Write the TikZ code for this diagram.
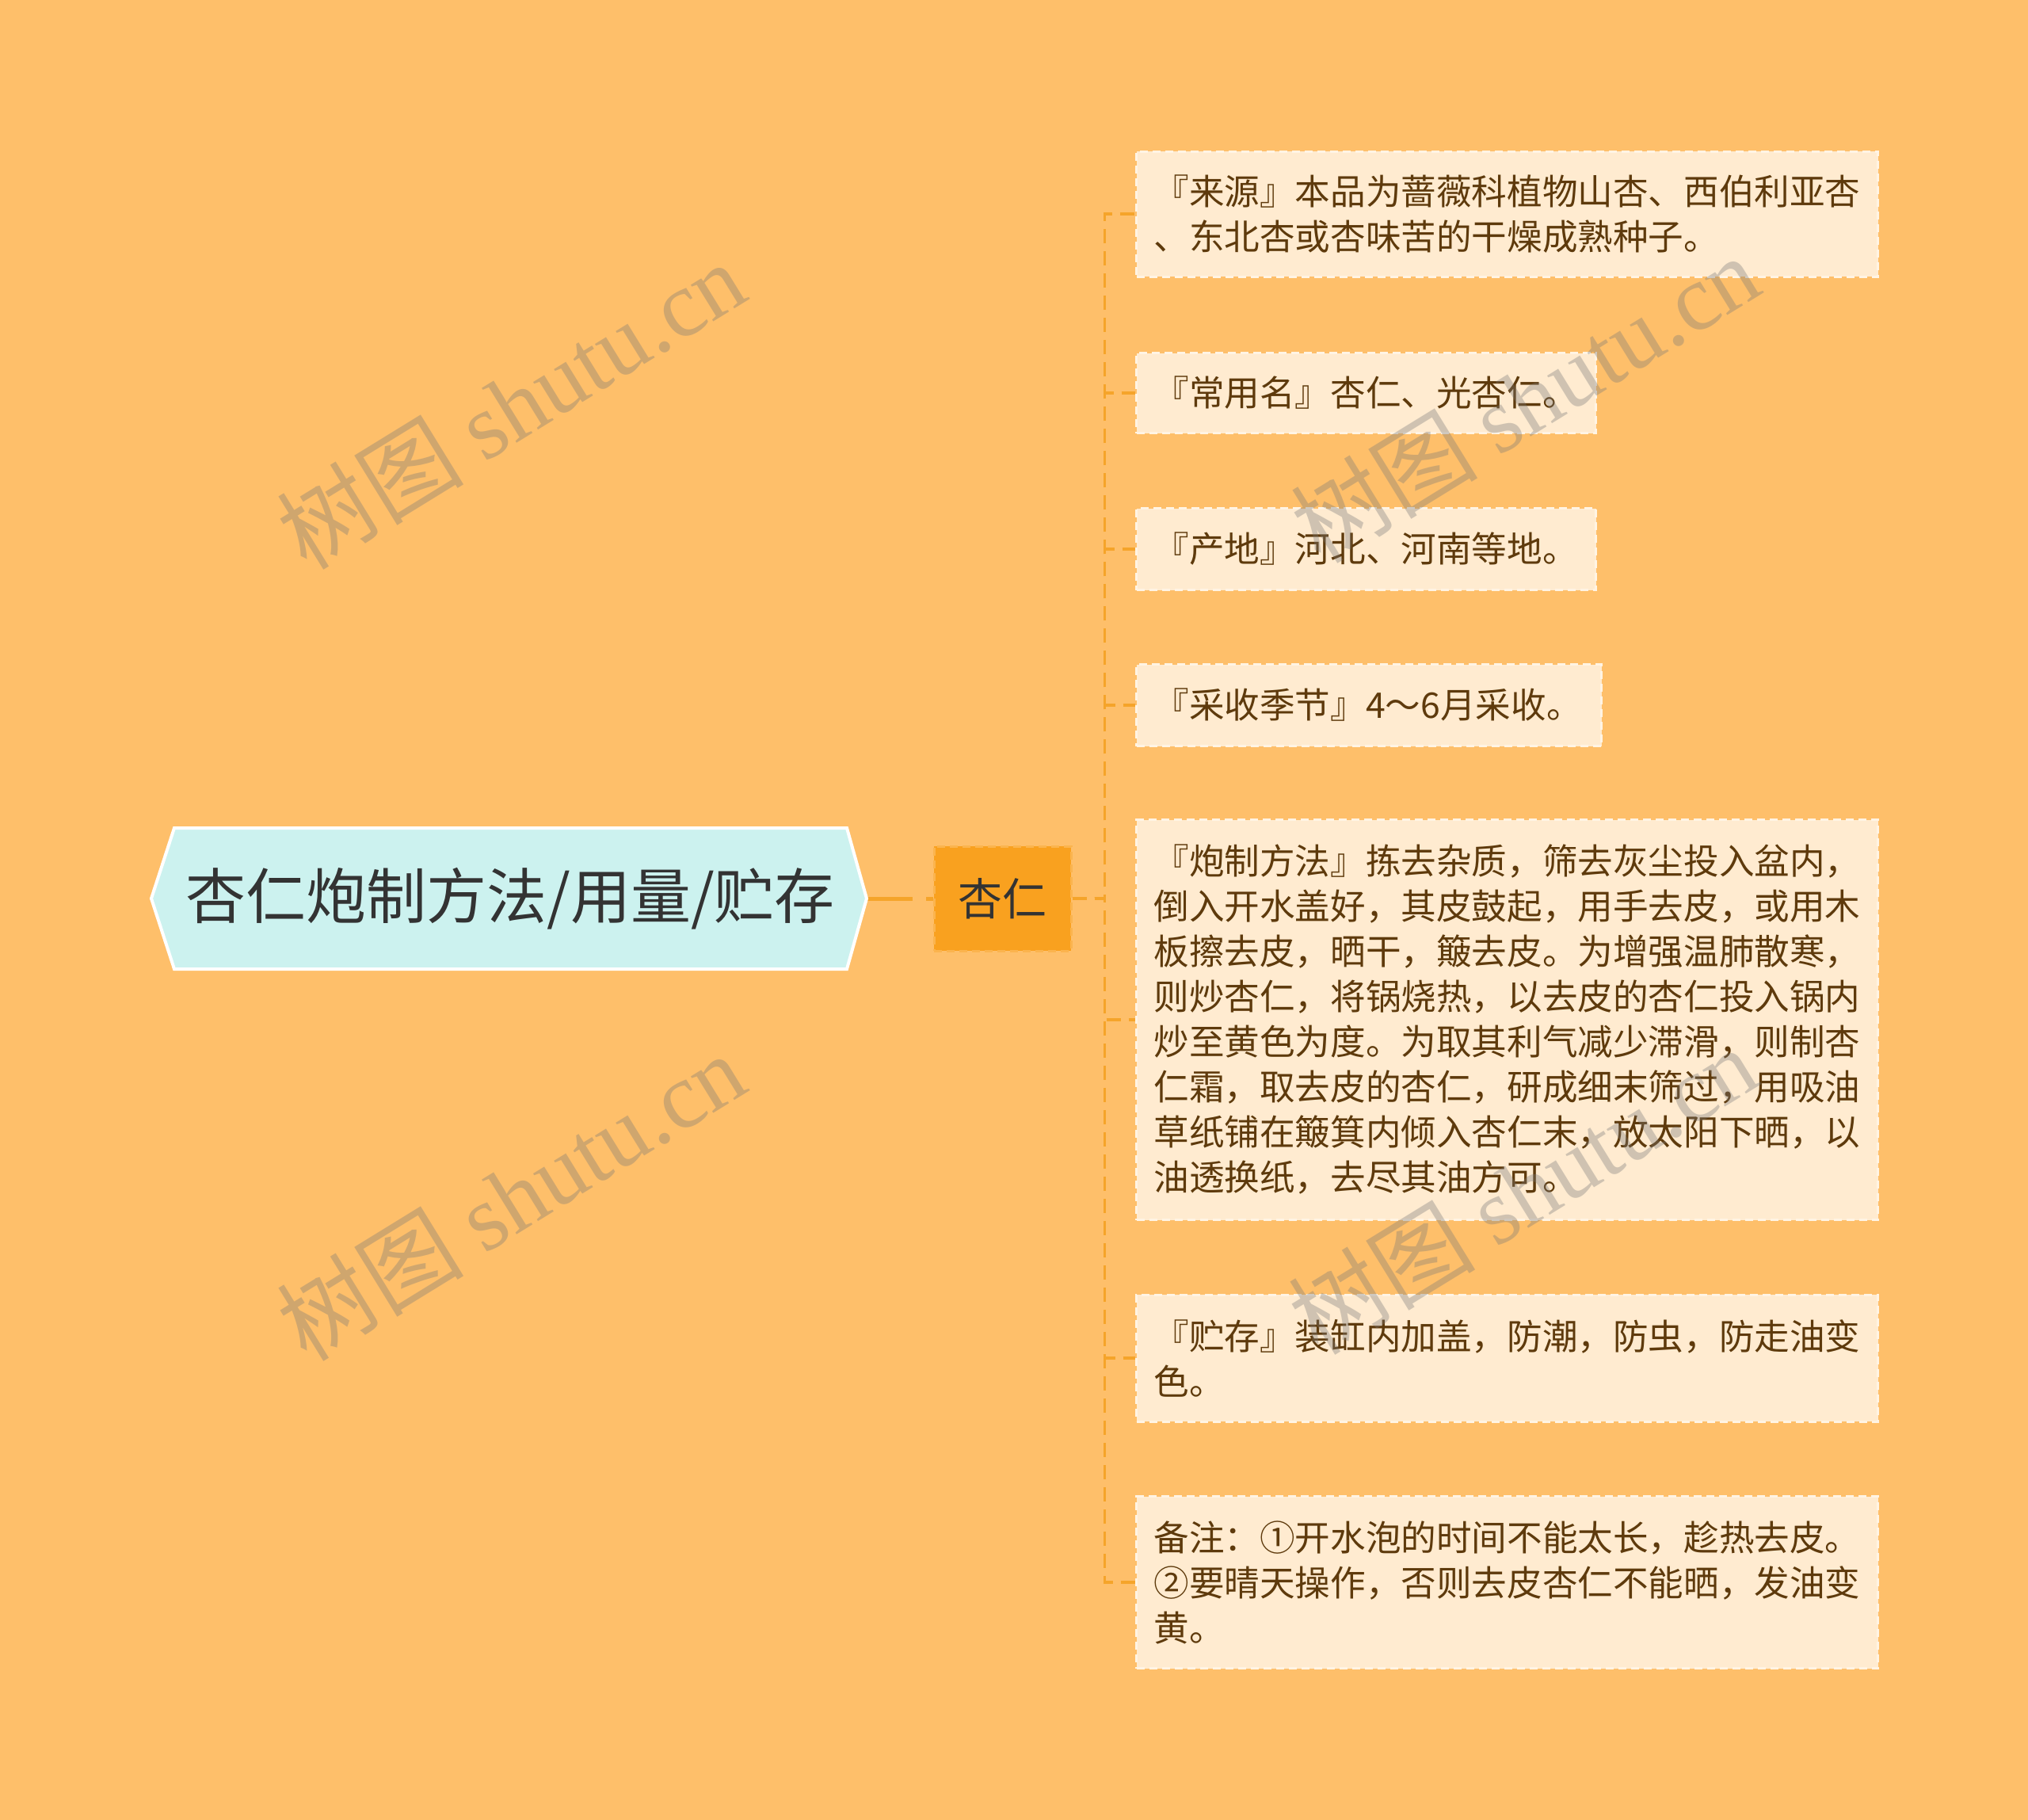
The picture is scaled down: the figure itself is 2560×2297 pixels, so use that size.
\documentclass[tikz,border=0pt]{standalone}
\usepackage{fontspec}
\setmainfont{Noto Sans CJK SC}
\newfontfamily\cjk{Noto Sans CJK SC}
\newfontfamily\wmserif{Liberation Serif}
\usetikzlibrary{backgrounds,calc}
\definecolor{bgor}{HTML}{FEBF6A}
\definecolor{leafbg}{HTML}{FFEBD0}
\definecolor{leafedge}{HTML}{FFF4E4}
\definecolor{leaftext}{HTML}{5E3A0C}
\definecolor{lineor}{HTML}{F5A42A}
\definecolor{rootbg}{HTML}{CCF2EF}
\definecolor{xrfill}{HTML}{F9A11F}
\definecolor{xredge}{HTML}{FBB44E}
\definecolor{darktext}{HTML}{333333}
\definecolor{wmgray}{HTML}{787878}
\begin{document}
\begin{tikzpicture}[x=0.5pt,y=-0.5pt,
  leaf/.style={anchor=west, fill=leafbg, draw=leafedge, dash pattern=on 5pt off 3pt,
    line width=1.5pt, inner xsep=11pt, inner ysep=0pt, align=left, text=leaftext,
    font=\fontsize{22.3}{28.5}\selectfont},
  conn/.style={draw=lineor, line width=1.75pt, dash pattern=on 9pt off 5pt},
  wm/.style={rotate=31.6, text=wmgray, opacity=0.35, font=\fontsize{59}{64}\selectfont}]
\useasboundingbox (0,0) rectangle (2560,2297);
% root hexagon
\path[fill=rootbg, draw=white, line width=2pt]
  (220,1045) -- (1069,1045) -- (1094,1134) -- (1069,1223) -- (220,1223) -- (191,1134) -- cycle;
\node[minimum width=424.5pt, minimum height=89pt, inner sep=0pt, text=darktext,
  font=\fontsize{38}{44}\selectfont] (root) at (644,1134) {杏仁炮制方法/用量/贮存};
\coordinate (rootTip) at (1094,1134);
% second level
\node[fill=xrfill, draw=xredge, dash pattern=on 5pt off 3pt, line width=1.5pt,
  minimum width=86.5pt, minimum height=66pt, inner sep=0pt, text=darktext,
  font=\fontsize{28}{32}\selectfont] (xr) at (1265.5,1134) {杏仁};
% leaves
\node[leaf, text width=446pt, minimum height=79pt] (l1) at (1433,270)
  {『来源』本品为蔷薇科植物山杏、西伯利亚杏\\、东北杏或杏味苦的干燥成熟种子。};
\node[leaf, text width=268pt, minimum height=50.5pt] (l2) at (1433,496)
  {『常用名』杏仁、光杏仁。};
\node[leaf, text width=268pt, minimum height=51.5pt] (l3) at (1433,693)
  {『产地』河北、河南等地。};
\node[leaf, text width=271.5pt, minimum height=51.5pt] (l4) at (1433,890)
  {『采收季节』4～6月采收。};
\node[leaf, text width=446pt, minimum height=252.5pt] (l5) at (1433,1287)
  {『炮制方法』拣去杂质，筛去灰尘投入盆内，\\倒入开水盖好，其皮鼓起，用手去皮，或用木\\板擦去皮，晒干，簸去皮。为增强温肺散寒，\\则炒杏仁，将锅烧热，以去皮的杏仁投入锅内\\炒至黄色为度。为取其利气减少滞滑，则制杏\\仁霜，取去皮的杏仁，研成细末筛过，用吸油\\草纸铺在簸箕内倾入杏仁末，放太阳下晒，以\\油透换纸，去尽其油方可。};
\node[leaf, text width=446pt, minimum height=80pt] (l6) at (1433,1714)
  {『贮存』装缸内加盖，防潮，防虫，防走油变\\色。};
\node[leaf, text width=446pt, minimum height=108.5pt] (l7) at (1433,1997)
  {备注：①开水泡的时间不能太长，趁热去皮。\\②要晴天操作，否则去皮杏仁不能晒，发油变\\黄。};
% background and connectors
\begin{scope}[on background layer]
  \fill[bgor] (0,0) rectangle (2560,2297);
  \draw[draw=lineor, line width=2.5pt, dash pattern=on 29pt off 8.5pt] (rootTip) -- (xr.west);
  \foreach \n in {l1,l2,l3,l4,l5,l6,l7}
    \draw[conn] (xr.east) -- ++(41,0) |- (\n.west);
\end{scope}
% watermarks
\node[wm] (wm1) at (645,511) {{\cjk 树图} {\wmserif shutu.cn}};
\node[wm] (wm2) at (645,1510) {{\cjk 树图} {\wmserif shutu.cn}};
\node[wm] (wm3) at (1925,503) {{\cjk 树图} {\wmserif shutu.cn}};
\node[wm] (wm4) at (1922,1502) {{\cjk 树图} {\wmserif shutu.cn}};
\end{tikzpicture}
\end{document}
